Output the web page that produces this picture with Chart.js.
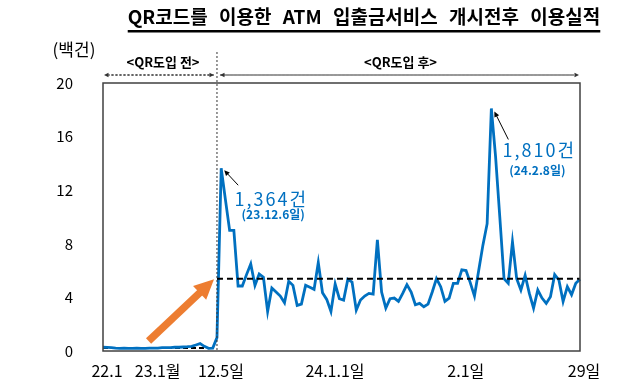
<!DOCTYPE html>
<html>
<head>
<meta charset="utf-8">
<script src="https://cdn.jsdelivr.net/npm/chart.js@4.4.1/dist/chart.umd.min.js"></script>
<style>
  html, body { margin: 0; padding: 0; background: #fff; }
</style>
</head>
<body>
<canvas id="chart" width="640" height="389"></canvas>
<script>
// pre-launch: monthly 22.1 ~ 23.11, then daily 23.12.1 ~ 12.4
const preLabels = ["22.1","22.2","22.3","22.4","22.5","22.6","22.7","22.8","22.9","22.10","22.11","22.12",
  "23.1","23.2","23.3","23.4","23.5","23.6","23.7","23.8","23.9","23.10","23.11",
  "23.12.1","23.12.2","23.12.3","23.12.4"];
const preValues = [0.28,0.27,0.25,0.22,0.2,0.22,0.2,0.2,0.22,0.2,0.2,0.22,
  0.22,0.22,0.25,0.25,0.25,0.28,0.28,0.3,0.32,0.35,0.45,
  0.55,0.35,0.2,0.22];

// post-launch: daily 23.12.5 ~ 24.2.29 (unit: 100 cases)
const postMonths = [["23.12", 5, 31], ["24.1", 1, 31], ["24.2", 1, 29]];
const postValues = [1.0,13.64,11.3,9.0,9.0,4.85,4.85,5.7,6.5,4.9,5.75,5.5,2.95,4.7,4.4,4.1,3.6,5.2,4.9,3.4,
  3.5,4.9,4.75,4.6,6.6,4.35,3.85,2.95,5.0,3.9,3.8,5.35,5.15,3.05,3.8,4.1,4.3,4.25,8.3,4.4,
  3.2,3.9,3.95,3.7,4.3,4.95,4.4,3.45,3.55,3.3,3.5,4.4,5.4,4.8,3.7,3.95,5.05,5.05,6.05,6.0,
  5.1,4.1,6.0,7.9,9.5,18.1,14.5,10.0,5.4,5.05,8.15,5.4,4.55,5.65,4.3,3.2,4.55,3.95,3.55,4.05,
  5.7,5.3,3.7,4.8,4.2,5.05,5.35];

const preAverage = 0.22;
const postAverage = 5.4;

const tickText = {"22.1": "22.1", "23.1": "23.1월", "23.12.5": "12.5일", "24.1.1": "24.1.1일", "24.2.1": "2.1일", "24.2.29": "29일"};
const yTicks = [0, 4, 8, 12, 16, 20];

const postLabels = [];
postMonths.forEach(([m, from, to]) => { for (let d = from; d <= to; d++) postLabels.push(m + "." + d); });

const labels = preLabels.concat(postLabels);
const usage = preValues.concat(postValues);
const preAvgLine = preLabels.map(() => preAverage).concat(postLabels.map(() => null));
const postAvgLine = preLabels.map(() => null).concat(postLabels.map(() => postAverage));

const FONT = "'Noto Sans CJK KR', 'Noto Sans', sans-serif";
const BLUE = "#0070C0";

function arrow(ctx, x1, y1, x2, y2, head, color, width, dash) {
  const a = Math.atan2(y2 - y1, x2 - x1);
  ctx.save();
  ctx.strokeStyle = color; ctx.fillStyle = color; ctx.lineWidth = width;
  ctx.setLineDash(dash || []);
  ctx.beginPath();
  ctx.moveTo(x1, y1);
  ctx.lineTo(x2 - Math.cos(a) * head * 0.8, y2 - Math.sin(a) * head * 0.8);
  ctx.stroke();
  ctx.setLineDash([]);
  ctx.beginPath();
  ctx.moveTo(x2, y2);
  ctx.lineTo(x2 - head * Math.cos(a - 0.45), y2 - head * Math.sin(a - 0.45));
  ctx.lineTo(x2 - head * Math.cos(a + 0.45), y2 - head * Math.sin(a + 0.45));
  ctx.closePath();
  ctx.fill();
  ctx.restore();
}

const decor = {
  id: "decor",
  afterDatasetsDraw(chart) {
    const { ctx, chartArea: area, scales: { x, y } } = chart;
    const launch = x.getPixelForValue(labels.indexOf("23.12.5"));
    ctx.save();

    // frame
    ctx.strokeStyle = "#404040"; ctx.lineWidth = 1.5;
    ctx.strokeRect(area.left, area.top, area.right - area.left, area.bottom - area.top);

    // launch divider
    ctx.strokeStyle = "#333"; ctx.lineWidth = 1; ctx.setLineDash([2, 2]);
    ctx.beginPath(); ctx.moveTo(launch, 52); ctx.lineTo(launch, area.bottom); ctx.stroke();
    ctx.setLineDash([]);

    // period arrows
    const ay = 75;
    arrow(ctx, launch - 3, ay, area.left + 1, ay, 5, "#333", 1, [2, 2]);
    arrow(ctx, area.left + 8, ay, launch - 3, ay, 5, "#333", 1, [2, 2]);
    arrow(ctx, launch + 3, ay, area.right - 1, ay, 5, "#333", 1, [2, 2]);
    arrow(ctx, area.right - 8, ay, launch + 3, ay, 5, "#333", 1, [2, 2]);

    ctx.fillStyle = "#000"; ctx.textAlign = "center"; ctx.textBaseline = "middle";
    ctx.font = "bold 13px " + FONT;
    ctx.fillText("<QR도입 전>", (area.left + launch) / 2 + 3, 62);
    ctx.fillText("<QR도입 후>", (launch + area.right) / 2 + 2, 62);

    // title
    ctx.font = "bold 19px " + FONT;
    ctx.wordSpacing = "7px";
    const title = "QR코드를 이용한 ATM 입출금서비스 개시전후 이용실적";
    const tw = ctx.measureText(title).width;
    const tx = 364;
    ctx.fillText(title, tx, 17);
    ctx.wordSpacing = "0px";
    ctx.fillRect(tx - tw / 2, 30, tw, 2.5);

    // unit
    ctx.font = "17px " + FONT;
    ctx.fillText("(백건)", 74, 50);

    // orange arrow
    const ox1 = x.getPixelForValue(10.8), oy1 = y.getPixelForValue(0.75);
    const ox2 = x.getPixelForValue(26.3), oy2 = y.getPixelForValue(5.35);
    arrow(ctx, ox1, oy1, ox2, oy2, 22, "#ED7D31", 7.5);

    // peak annotations
    const pts = chart.getDatasetMeta(1).data;
    const p1 = pts[labels.indexOf("23.12.6")];
    const p2 = pts[labels.indexOf("24.2.8")];
    arrow(ctx, p1.x + 17, p1.y + 17, p1.x + 3, p1.y + 2, 6, "#000", 1);
    arrow(ctx, p2.x + 17, p2.y + 31, p2.x + 3, p2.y + 3, 6, "#000", 1);

    ctx.fillStyle = BLUE;
    ctx.font = "18px " + FONT;
    ctx.letterSpacing = "2px";
    ctx.fillText("1,364건", p1.x + 50, p1.y + 31);
    ctx.fillText("1,810건", p2.x + 48, p2.y + 42);
    ctx.letterSpacing = "0px";
    ctx.font = "bold 12px " + FONT;
    ctx.fillText("(23.12.6일)", p1.x + 52, p1.y + 46);
    ctx.fillText("(24.2.8일)", p2.x + 46, p2.y + 62);
    ctx.restore();
  }
};

new Chart(document.getElementById("chart"), {
  type: "line",
  data: {
    labels,
    datasets: [
      { data: postAvgLine, borderColor: "#000", borderWidth: 2, borderDash: [6, 4], pointRadius: 0, order: 1 },
      { data: usage, borderColor: BLUE, borderWidth: 2.8, pointRadius: 0, tension: 0, order: 2 },
      { data: preAvgLine, borderColor: "#000", borderWidth: 2, borderDash: [5, 3], pointRadius: 0, order: 3 }
    ]
  },
  options: {
    responsive: false,
    animation: false,
    layout: { padding: { top: 83, right: 60, left: 0, bottom: 0 } },
    plugins: { legend: { display: false }, tooltip: { enabled: false } },
    scales: {
      x: {
        grid: { display: false }, border: { display: false },
        afterFit: (s) => { s.height = 38; },
        ticks: {
          autoSkip: false, maxRotation: 0, padding: 2, labelOffset: 4, color: "#000",
          font: { family: FONT, size: 16 },
          callback: function (v) { return tickText[this.getLabelForValue(v)] || null; }
        }
      },
      y: {
        min: 0, max: 20,
        grid: { display: false }, border: { display: false },
        afterFit: (s) => { s.width = 103; },
        afterBuildTicks: (s) => { s.ticks = yTicks.map((v) => ({ value: v })); },
        ticks: { padding: 22, color: "#000", font: { family: FONT, size: 15 } }
      }
    }
  },
  plugins: [decor]
});
</script>
</body>
</html>
